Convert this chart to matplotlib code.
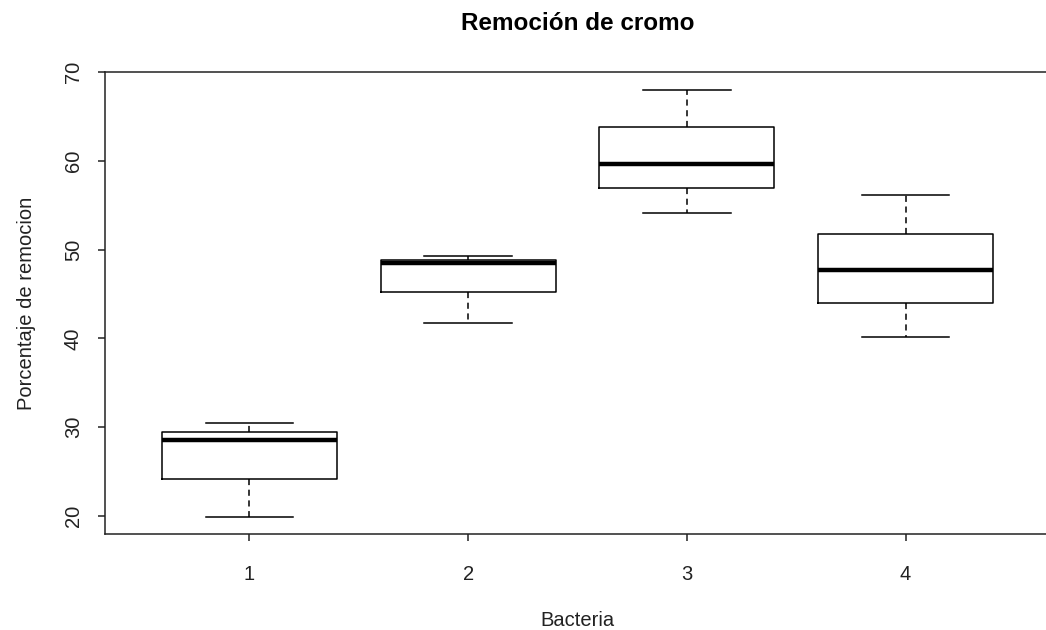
import matplotlib.pyplot as plt

# Values
bacteria = ["1", "2", "3", "4"]
whisker_low = [19.9, 41.7, 54.1, 40.2]
q1 = [24.2, 45.2, 56.9, 44.0]
median = [28.6, 48.5, 59.6, 47.7]
q3 = [29.5, 48.8, 63.8, 51.8]
whisker_high = [30.5, 49.3, 68.0, 56.1]

plt.rcParams["font.family"] = ["Liberation Sans", "DejaVu Sans"]

stats = [
    {"label": lab, "whislo": lo, "q1": a, "med": m, "q3": b, "whishi": hi, "fliers": []}
    for lab, lo, a, m, b, hi in zip(bacteria, whisker_low, q1, median, q3, whisker_high)
]

fig = plt.figure(figsize=(10.46, 6.3), dpi=100)
ax = fig.add_axes([105 / 1046, 96 / 630, 945 / 1046, 462 / 630])

ax.bxp(
    stats,
    positions=range(1, len(bacteria) + 1),
    widths=0.8,
    showfliers=False,
    boxprops=dict(color="black", linewidth=1.1),
    whiskerprops=dict(color="black", linewidth=1.1, linestyle=(0, (4, 3))),
    capprops=dict(color="black", linewidth=1.1),
    medianprops=dict(color="black", linewidth=3.2, solid_capstyle="butt"),
    capwidths=0.4,
)

ax.set_xlim(0.34, 4.66)
ax.set_ylim(17.98, 70.0)
ax.set_yticks([20, 30, 40, 50, 60, 70])
ax.set_xticks([1, 2, 3, 4])
ax.set_xticklabels(bacteria)
for s in ax.spines.values():
    s.set_linewidth(1.1)
    s.set_color("#222222")

ax.tick_params(axis="both", length=5, width=1.1, color="#222222", labelsize=14.5, labelcolor="#222222")
ax.tick_params(axis="x", pad=17)
ax.tick_params(axis="y", pad=11)
for t in ax.get_yticklabels():
    t.set_rotation(90)
    t.set_va("center")

ax.set_title("Remoción de cromo", fontsize=17.5, fontweight="bold", pad=30)
ax.set_xlabel("Bacteria", fontsize=14.5, color="#222222", labelpad=20)
ax.set_ylabel("Porcentaje de remocion", fontsize=14.5, color="#222222", labelpad=20)

fig.savefig("out.png", dpi=100)
